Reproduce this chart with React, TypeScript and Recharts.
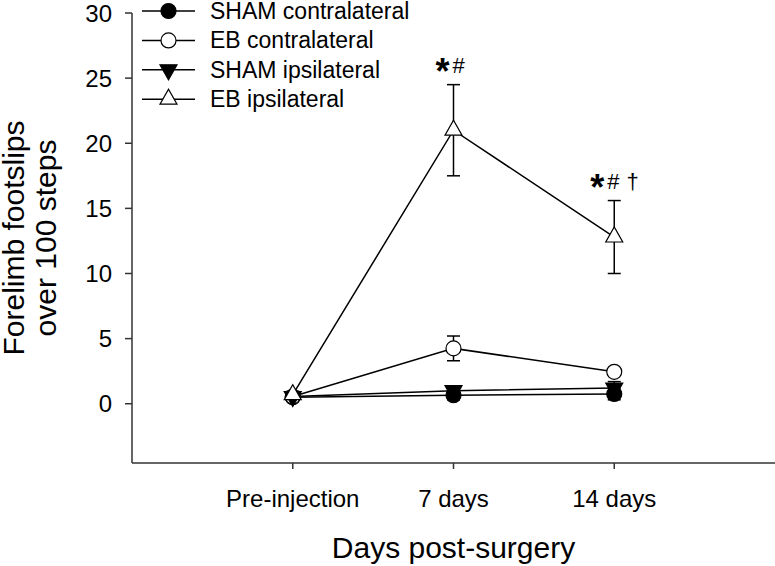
import { ComposedChart, Line, XAxis, YAxis, ErrorBar, Legend, LabelList } from 'recharts';

const FONT = 'Arial, "Liberation Sans", Helvetica, sans-serif';

// categories on the x axis (placed at 0, 1, 2 on a numeric axis running -1..3)
const categories = ['Pre-injection', '7 days', '14 days'];
const categoryPos = [0, 1, 2];

// means and SEM
const shamContra = [0.5, 0.65, 0.75];
const shamContraErr = [0.2, 0.35, 0.45];
const ebContra = [0.55, 4.25, 2.45];
const ebContraErr = [0.2, 0.95, 0.25];
const shamIpsi = [0.55, 1.0, 1.2];
const shamIpsiErr = [0.2, 0.3, 0.5];
const ebIpsi = [0.7, 21.0, 12.8];
const ebIpsiErr = [0.25, 3.5, 2.8];

// significance marks above EB ipsilateral
const sigMarks = ['', '*#', '*#†'];

const yTicks = [0, 5, 10, 15, 20, 25, 30];

const series = [
  { key: 'shamContra', name: 'SHAM contralateral', marker: 'filledCircle' },
  { key: 'ebContra', name: 'EB contralateral', marker: 'openCircle' },
  { key: 'shamIpsi', name: 'SHAM ipsilateral', marker: 'filledDown' },
  { key: 'ebIpsi', name: 'EB ipsilateral', marker: 'openUp' },
];

const data = categories.map((c, i) => ({
  x: categoryPos[i],
  label: c,
  shamContra: shamContra[i],
  shamContraErr: shamContraErr[i],
  ebContra: ebContra[i],
  ebContraErr: ebContraErr[i],
  shamIpsi: shamIpsi[i],
  shamIpsiErr: shamIpsiErr[i],
  ebIpsi: ebIpsi[i],
  ebIpsiErr: ebIpsiErr[i],
  sigTop: ebIpsi[i] + ebIpsiErr[i],
  sig: sigMarks[i],
}));

function Marker({ kind, cx, cy }: { kind: string; cx: number; cy: number }) {
  if (cx == null || cy == null) return null;
  if (kind === 'filledCircle') return <circle cx={cx} cy={cy} r={7.5} fill="#000" stroke="#000" strokeWidth={1.2} />;
  if (kind === 'openCircle') return <circle cx={cx} cy={cy} r={7.5} fill="#fff" stroke="#000" strokeWidth={1.2} />;
  if (kind === 'filledDown')
    return (
      <polygon
        points={`${cx - 8.5},${cy - 5} ${cx + 8.5},${cy - 5} ${cx},${cy + 10}`}
        fill="#000"
        stroke="#000"
        strokeWidth={1.2}
      />
    );
  return (
    <polygon
      points={`${cx - 8.5},${cy + 5} ${cx + 8.5},${cy + 5} ${cx},${cy - 10}`}
      fill="#fff"
      stroke="#000"
      strokeWidth={1.2}
    />
  );
}

const SigLabel = (props: any) => {
  const { x, y, value } = props;
  if (!value) return null;
  const hasDagger = String(value).includes('†');
  const left = x - (hasDagger ? 24 : 18);
  return (
    <text x={left} y={y - 12} fontFamily={FONT} fill="#000">
      <tspan fontSize={36} fontWeight="bold" dy={11}>*</tspan>
      <tspan fontSize={22} dy={-11} dx={3}>#</tspan>
      {hasDagger && <tspan fontSize={22} dx={7}>†</tspan>}
    </text>
  );
};

const YTitle = (props: any) => {
  const vb = props.viewBox || { y: 13, height: 450 };
  const cx = 24;
  const cy = vb.y + vb.height / 2;
  return (
    <text
      transform={`rotate(-90, ${cx}, ${cy})`}
      x={cx}
      y={cy}
      textAnchor="middle"
      fontSize={30}
      fontFamily={FONT}
      fill="#000"
    >
      <tspan x={cx} dy={0}>Forelimb footslips</tspan>
      <tspan x={cx} dy={32}>over 100 steps</tspan>
    </text>
  );
};

const LegendBox = () => (
  <svg width={300} height={115} style={{ display: 'block', overflow: 'visible' }}>
    {series.map((s, i) => {
      const y = 11 + i * 29.4;
      return (
        <g key={s.key}>
          <line x1={0} y1={y} x2={53} y2={y} stroke="#000" strokeWidth={1.5} />
          <Marker kind={s.marker} cx={26.5} cy={y} />
          <text x={68} y={y + 8} fontSize={23} fontFamily={FONT} fill="#000">
            {s.name}
          </text>
        </g>
      );
    })}
  </svg>
);

export default function App() {
  return (
    <div style={{ position: 'absolute', left: 0, top: 0, width: 775, height: 566, background: '#fff' }}>
      <ComposedChart width={775} height={566} data={data} margin={{ top: 13, right: 0, bottom: 0, left: 0 }}>
        <XAxis
          type="number"
          dataKey="x"
          domain={[-1, 3]}
          ticks={categoryPos}
          tickFormatter={(v) => categories[v] ?? ''}
          height={103}
          tickSize={6}
          tickMargin={21}
          stroke="#333"
          strokeWidth={1.5}
          tick={{ fill: '#000', fontSize: 24, fontFamily: FONT }}
          label={{ value: 'Days post-surgery', position: 'insideBottom', offset: 8, fill: '#000', fontSize: 30, fontFamily: FONT }}
        />
        <YAxis
          type="number"
          domain={[-4.55, 30]}
          ticks={yTicks}
          allowDataOverflow
          width={132}
          tickSize={7}
          tickMargin={13}
          stroke="#333"
          strokeWidth={1.5}
          tick={{ fill: '#000', fontSize: 24, fontFamily: FONT }}
          label={{ content: YTitle }}
        />
        <Legend
          layout="vertical"
          align="center"
          verticalAlign="middle"
          wrapperStyle={{ left: 142, top: 0, width: 300, height: 115 }}
          content={() => <LegendBox />}
        />
        {series.map((s) => (
          <Line
            key={s.key}
            type="linear"
            dataKey={s.key}
            name={s.name}
            stroke="#000"
            strokeWidth={1.5}
            isAnimationActive={false}
            activeDot={false}
            dot={(p: any) => <Marker key={`${s.key}-${p.index}`} kind={s.marker} cx={p.cx} cy={p.cy} />}
          >
            <ErrorBar dataKey={`${s.key}Err`} width={6.5} stroke="#000" strokeWidth={1.5} direction="y" isAnimationActive={false} />
          </Line>
        ))}
        <Line
          dataKey="sigTop"
          stroke="none"
          dot={false}
          activeDot={false}
          legendType="none"
          isAnimationActive={false}
        >
          <LabelList dataKey="sig" content={SigLabel} />
        </Line>
      </ComposedChart>
    </div>
  );
}
